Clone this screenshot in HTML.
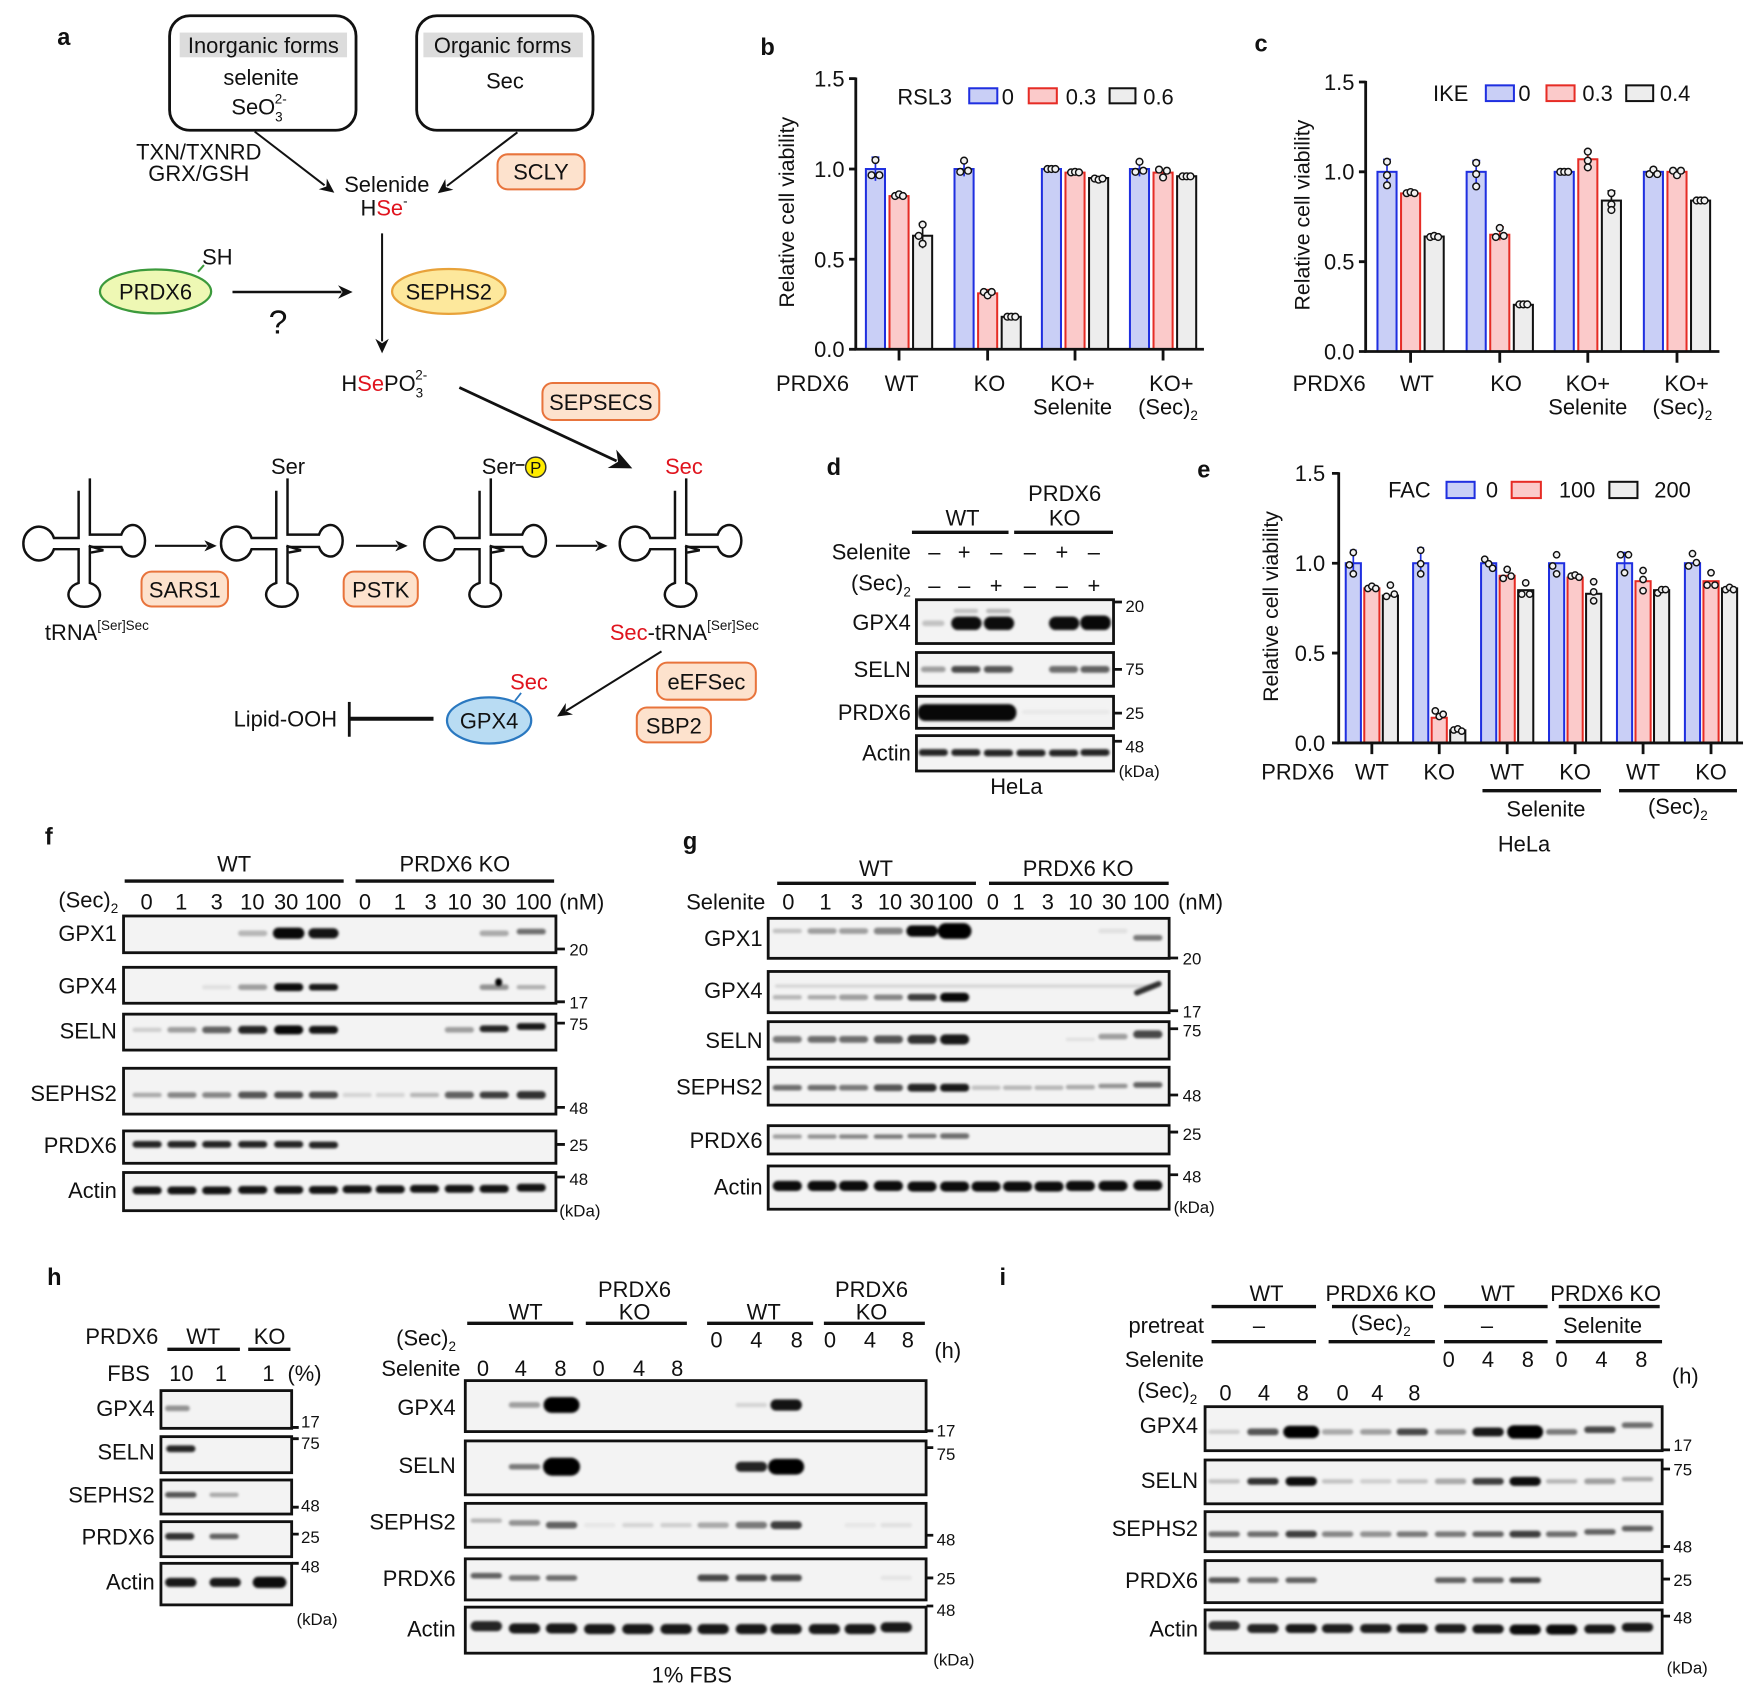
<!DOCTYPE html>
<html><head><meta charset="utf-8"><style>
html,body{margin:0;padding:0;background:#fff;overflow:hidden}
svg{display:block}
text{font-family:"Liberation Sans",Arial,Helvetica,sans-serif;font-size:19.5px;fill:#111}
.L{font-weight:bold;font-size:21px}
.m{font-size:15px}
.sm{font-size:12px}
.ax{stroke:#111;stroke-width:2.5;fill:none}
.bb{fill:#c9cff6;stroke:#1f2fe0;stroke-width:1.8}
.br{fill:#fbcaca;stroke:#e62c25;stroke-width:1.8}
.bg{fill:#ededed;stroke:#111;stroke-width:1.8}
.dt circle{fill:#f2f2f2;stroke:#111;stroke-width:1.3}
.box{fill:#f3f3f3;stroke:#111;stroke-width:2.5}
.hl{stroke:#111;stroke-width:3}
.bd rect{fill:#000}
.ob{fill:#fde2cd;stroke:#e8743c;stroke-width:1.8}
.tr{fill:none;stroke:#111;stroke-width:2.2}
.r{fill:#e0141e}
</style></head><body>
<svg width="1761" height="1699" viewBox="0 0 1568 1512.8" xmlns="http://www.w3.org/2000/svg">
<defs>
<filter id="bl" x="-20%" y="-50%" width="140%" height="200%"><feGaussianBlur stdDeviation="1.3"/></filter>
<g id="trna">
<path class="tr" d="M -5 -47 L -5 -5 L -27 -5 A 14 15 0 1 0 -27 5 L -5 5 L -5 35 A 14 11 0 1 0 5 35 L 5 3 L 33 3 A 11 14 0 1 0 33 -8 L 5 -8 L 5 -58"/>
<path class="tr" d="M 4 2 L 17 6 L 6 8" stroke-width="1.6"/>
</g>
</defs>

<!-- ================= PANEL A ================= -->
<text class="L" x="51" y="40">a</text>
<rect x="151" y="14" width="166" height="102" rx="18" fill="#fff" stroke="#111" stroke-width="2.5"/>
<rect x="160" y="29" width="149" height="22" fill="#dcdcdc"/>
<text x="234.5" y="47" text-anchor="middle">Inorganic forms</text>
<text x="232.5" y="75.5" text-anchor="middle">selenite</text>
<text x="206" y="102">SeO<tspan class="sm" dy="6">3</tspan><tspan class="sm" dx="-7" dy="-16">2-</tspan></text>
<rect x="371" y="14" width="157" height="102" rx="18" fill="#fff" stroke="#111" stroke-width="2.5"/>
<rect x="377" y="29" width="142" height="22" fill="#dcdcdc"/>
<text x="447.5" y="47" text-anchor="middle">Organic forms</text>
<text x="449.6" y="79" text-anchor="middle">Sec</text>

<text x="177" y="142" text-anchor="middle">TXN/TXNRD</text>
<text x="177" y="161" text-anchor="middle">GRX/GSH</text>
<line x1="226.8" y1="117.2" x2="289" y2="165" stroke="#111" stroke-width="1.8"/>
<polygon points="297.7,171.6 283.8,168.5 290.6,166.1 291,158.9" fill="#111"/>
<line x1="460.7" y1="117.8" x2="398" y2="165.5" stroke="#111" stroke-width="1.8"/>
<polygon points="389.8,172.1 396.5,159.4 397,166.6 403.7,169" fill="#111"/>
<rect class="ob" x="443" y="137.4" width="77.5" height="31.2" rx="9"/>
<text x="481.7" y="160" text-anchor="middle">SCLY</text>
<text x="344.4" y="171" text-anchor="middle">Selenide</text>
<text x="321" y="192">H<tspan class="r">Se</tspan><tspan class="sm" dy="-9">-</tspan></text>
<line x1="340.2" y1="207.8" x2="340.2" y2="304" stroke="#111" stroke-width="1.8"/>
<polygon points="340.2,314.6 334.2,301.6 340.2,305.6 346.2,301.6" fill="#111"/>

<ellipse cx="138.5" cy="259.5" rx="49.5" ry="19.5" fill="#eef8b4" stroke="#3c9a3c" stroke-width="2"/>
<text x="138.5" y="266.5" text-anchor="middle">PRDX6</text>
<line x1="176.3" y1="242" x2="181.6" y2="236" stroke="#3c9a3c" stroke-width="1.8"/>
<text x="180" y="235.5">SH</text>
<line x1="207" y1="260" x2="304" y2="260" stroke="#111" stroke-width="2.2"/>
<polygon points="314,260 301,254 305,260 301,266" fill="#111"/>
<text x="247.5" y="297" text-anchor="middle" style="font-size:30px">?</text>
<ellipse cx="399.6" cy="259.5" rx="50.5" ry="20" fill="#fde89c" stroke="#e8a23a" stroke-width="2"/>
<text x="399.6" y="266.5" text-anchor="middle">SEPHS2</text>

<text x="304" y="348">H<tspan class="r">Se</tspan>PO<tspan class="sm" dy="6">3</tspan><tspan class="sm" dx="-7" dy="-16">2-</tspan></text>
<line x1="409" y1="345" x2="549" y2="410.5" stroke="#111" stroke-width="2.5"/>
<polygon points="563,417 541.1,416.7 550.3,411.1 548.7,400.3" fill="#111"/>
<rect class="ob" x="483" y="341" width="104" height="33" rx="9"/>
<text x="535" y="365" text-anchor="middle">SEPSECS</text>

<!-- tRNAs -->
<use href="#trna" transform="translate(75,484)"/>
<use href="#trna" transform="translate(251,484)"/>
<use href="#trna" transform="translate(432,484)"/>
<use href="#trna" transform="translate(606,484)"/>
<line x1="138" y1="486" x2="184" y2="486" stroke="#111" stroke-width="1.8"/>
<polygon points="193,486 182,481 185,486 182,491" fill="#111"/>
<line x1="317" y1="486" x2="354" y2="486" stroke="#111" stroke-width="1.8"/>
<polygon points="363,486 352,481 355,486 352,491" fill="#111"/>
<line x1="495" y1="486" x2="532" y2="486" stroke="#111" stroke-width="1.8"/>
<polygon points="541,486 530,481 533,486 530,491" fill="#111"/>
<text x="256.5" y="422" text-anchor="middle">Ser</text>
<text x="429" y="422">Ser</text>
<line x1="459" y1="414" x2="467" y2="414" stroke="#111" stroke-width="1.5"/>
<circle cx="477" cy="416" r="9" fill="#ffec00" stroke="#333" stroke-width="1.3"/>
<text x="477" y="421.5" text-anchor="middle" style="font-size:15px">P</text>
<text x="609" y="422" text-anchor="middle" class="r">Sec</text>
<rect class="ob" x="126" y="509" width="77" height="31" rx="9"/>
<text x="164.5" y="532" text-anchor="middle">SARS1</text>
<rect class="ob" x="306" y="509" width="66" height="31" rx="9"/>
<text x="339" y="532" text-anchor="middle">PSTK</text>
<text x="40" y="570">tRNA<tspan class="sm" dy="-9">[Ser]Sec</tspan></text>
<text x="543" y="570"><tspan class="r">Sec</tspan>-tRNA<tspan class="sm" dy="-9">[Ser]Sec</tspan></text>
<line x1="589" y1="580" x2="504" y2="633" stroke="#111" stroke-width="1.8"/>
<polygon points="496,638 503.8,626 503.6,633.2 510.2,636.2" fill="#111"/>
<rect class="ob" x="585" y="590" width="88" height="33" rx="9"/>
<text x="629" y="614" text-anchor="middle">eEFSec</text>
<rect class="ob" x="567" y="630" width="66" height="31" rx="9"/>
<text x="600" y="653" text-anchor="middle">SBP2</text>
<ellipse cx="435.5" cy="641.5" rx="37.5" ry="20.5" fill="#b9dcf3" stroke="#2a78c0" stroke-width="2"/>
<text x="435.5" y="648.5" text-anchor="middle">GPX4</text>
<line x1="458.5" y1="624" x2="464" y2="617" stroke="#2a78c0" stroke-width="1.6"/>
<text x="471" y="614" text-anchor="middle" class="r">Sec</text>
<text x="208" y="647">Lipid-OOH</text>
<line x1="311" y1="640" x2="386" y2="640" stroke="#111" stroke-width="3.5"/>
<line x1="311" y1="625" x2="311" y2="656" stroke="#111" stroke-width="2.5"/>

<!-- ================= PANEL B ================= -->
<text class="L" x="677" y="49">b</text>
<text transform="translate(707,189) rotate(-90)" text-anchor="middle" style="font-size:19px">Relative cell viability</text>
<line class="ax" x1="762" y1="69" x2="762" y2="312"/>
<line class="ax" x1="756" y1="70" x2="762" y2="70"/><line class="ax" x1="756" y1="150.5" x2="762" y2="150.5"/><line class="ax" x1="756" y1="230.8" x2="762" y2="230.8"/><line class="ax" x1="756" y1="311" x2="762" y2="311"/>
<text x="752" y="77" text-anchor="end">1.5</text><text x="752" y="157.5" text-anchor="end">1.0</text><text x="752" y="238" text-anchor="end">0.5</text><text x="752" y="318" text-anchor="end">0.0</text>
<rect class="bb" x="771" y="150.5" width="17" height="160.5"/><rect class="br" x="792" y="174.6" width="17" height="136.4"/><rect class="bg" x="813" y="209.9" width="17" height="101.1"/>
<rect class="bb" x="849.9" y="150.5" width="17" height="160.5"/><rect class="br" x="870.9" y="261.2" width="17" height="49.8"/><rect class="bg" x="891.9" y="282.1" width="17" height="28.9"/>
<rect class="bb" x="927.7" y="150.5" width="17" height="160.5"/><rect class="br" x="948.7" y="153.7" width="17" height="157.3"/><rect class="bg" x="969.7" y="158.5" width="17" height="152.5"/>
<rect class="bb" x="1006.1" y="150.5" width="17" height="160.5"/><rect class="br" x="1027.1" y="153.7" width="17" height="157.3"/><rect class="bg" x="1048.1" y="156.9" width="17" height="154.1"/>
<g stroke-width="1.5" fill="none">
<path stroke="#1f2fe0" d="M779.5 140V161M776 140H783M858.4 144V157M855 144H862M1014.6 144V157M1011 144H1018"/>
<path stroke="#111" d="M821.5 199V221M818 199H825"/>
<path stroke="#e62c25" d="M879.4 258V264M876 258H883"/>
</g>
<g class="dt">
<circle cx="779.5" cy="142.5" r="3"/><circle cx="776" cy="156" r="3"/><circle cx="783" cy="156" r="3"/>
<circle cx="797" cy="174.5" r="3"/><circle cx="800.5" cy="173" r="3"/><circle cx="804" cy="174.5" r="3"/>
<circle cx="821.5" cy="200" r="3"/><circle cx="818" cy="210" r="3"/><circle cx="821.5" cy="217" r="3"/>
<circle cx="858.4" cy="143" r="3"/><circle cx="855" cy="153" r="3"/><circle cx="862" cy="152" r="3"/>
<circle cx="876" cy="260" r="3"/><circle cx="879.4" cy="263" r="3"/><circle cx="883" cy="260" r="3"/>
<circle cx="897" cy="282" r="3"/><circle cx="900.4" cy="282" r="3"/><circle cx="904" cy="282" r="3"/>
<circle cx="932.7" cy="150.5" r="3"/><circle cx="936.2" cy="150.5" r="3"/><circle cx="939.7" cy="150.5" r="3"/>
<circle cx="953.7" cy="153.5" r="3"/><circle cx="957.2" cy="153" r="3"/><circle cx="960.7" cy="153.5" r="3"/>
<circle cx="974.7" cy="159" r="3"/><circle cx="978.2" cy="160" r="3"/><circle cx="981.7" cy="159" r="3"/>
<circle cx="1014.6" cy="144" r="3"/><circle cx="1011" cy="153" r="3"/><circle cx="1018" cy="152" r="3"/>
<circle cx="1032" cy="151" r="3"/><circle cx="1035.6" cy="158" r="3"/><circle cx="1039" cy="152" r="3"/>
<circle cx="1053" cy="157" r="3"/><circle cx="1056.6" cy="157" r="3"/><circle cx="1060" cy="157" r="3"/>
</g>
<line class="ax" x1="760.8" y1="311" x2="1072" y2="311"/>
<path class="ax" d="M800.5 311V321M879.4 311V321M957.2 311V321M1035.6 311V321"/>
<text x="799" y="93">RSL3</text>
<rect class="bb" x="863" y="78.6" width="25" height="13.4" stroke-width="2.5"/><text x="892" y="93">0</text>
<rect class="br" x="916" y="78.6" width="25" height="13.4" stroke-width="2.5"/><text x="949" y="93">0.3</text>
<rect class="bg" x="988" y="78.6" width="23" height="13.4" stroke-width="2.5"/><text x="1018" y="93">0.6</text>
<text x="691" y="348">PRDX6</text>
<text x="802.8" y="348" text-anchor="middle">WT</text>
<text x="881" y="348" text-anchor="middle">KO</text>
<text x="955" y="348" text-anchor="middle">KO+</text>
<text x="955" y="369" text-anchor="middle">Selenite</text>
<text x="1043" y="348" text-anchor="middle">KO+</text>
<text x="1040" y="369" text-anchor="middle">(Sec)<tspan class="sm" dy="5">2</tspan></text>

<!-- ================= PANEL C ================= -->
<text class="L" x="1117" y="46">c</text>
<text transform="translate(1166,191.5) rotate(-90)" text-anchor="middle" style="font-size:19px">Relative cell viability</text>
<line class="ax" x1="1216" y1="72" x2="1216" y2="314"/>
<path class="ax" d="M1210 73H1216M1210 153H1216M1210 233H1216M1210 313H1216"/>
<text x="1206" y="80" text-anchor="end">1.5</text><text x="1206" y="160" text-anchor="end">1.0</text><text x="1206" y="240" text-anchor="end">0.5</text><text x="1206" y="320" text-anchor="end">0.0</text>
<rect class="bb" x="1226.5" y="153" width="17" height="160"/><rect class="br" x="1247.5" y="172.2" width="17" height="140.8"/><rect class="bg" x="1268.5" y="210.6" width="17" height="102.4"/>
<rect class="bb" x="1305.9" y="153" width="17" height="160"/><rect class="br" x="1326.9" y="209" width="17" height="104"/><rect class="bg" x="1347.9" y="271.4" width="17" height="41.6"/>
<rect class="bb" x="1384.3" y="153" width="17" height="160"/><rect class="br" x="1405.3" y="141.8" width="17" height="171.2"/><rect class="bg" x="1426.3" y="178.6" width="17" height="134.4"/>
<rect class="bb" x="1463.7" y="153" width="17" height="160"/><rect class="br" x="1484.7" y="153" width="17" height="160"/><rect class="bg" x="1505.7" y="178.6" width="17" height="134.4"/>
<g stroke-width="1.5" fill="none">
<path stroke="#1f2fe0" d="M1235 142V166M1231.5 142H1238.5M1314.4 143V167M1311 143H1318"/>
<path stroke="#e62c25" d="M1335.4 202V214M1332 202H1339M1413.8 134V150M1410.3 134H1417.3"/>
<path stroke="#111" d="M1434.8 170V188M1431.3 170H1438.3"/>
</g>
<g class="dt">
<circle cx="1235" cy="144" r="3"/><circle cx="1235" cy="156" r="3"/><circle cx="1235" cy="165" r="3"/>
<circle cx="1252.5" cy="172" r="3"/><circle cx="1256" cy="171" r="3"/><circle cx="1259.5" cy="172" r="3"/>
<circle cx="1273.5" cy="211" r="3"/><circle cx="1277" cy="210" r="3"/><circle cx="1280.5" cy="211" r="3"/>
<circle cx="1314.4" cy="145" r="3"/><circle cx="1314.4" cy="155" r="3"/><circle cx="1314.4" cy="166" r="3"/>
<circle cx="1335.4" cy="203" r="3"/><circle cx="1331.9" cy="211" r="3"/><circle cx="1338.9" cy="210" r="3"/>
<circle cx="1352.9" cy="271" r="3"/><circle cx="1356.4" cy="271" r="3"/><circle cx="1359.9" cy="271" r="3"/>
<circle cx="1389.3" cy="153" r="3"/><circle cx="1392.8" cy="153" r="3"/><circle cx="1396.3" cy="153" r="3"/>
<circle cx="1413.8" cy="135" r="3"/><circle cx="1413.8" cy="143" r="3"/><circle cx="1413.8" cy="149" r="3"/>
<circle cx="1434.8" cy="172" r="3"/><circle cx="1434.8" cy="182" r="3"/><circle cx="1434.8" cy="187" r="3"/>
<circle cx="1468.7" cy="155" r="3"/><circle cx="1472.2" cy="151" r="3"/><circle cx="1475.7" cy="155" r="3"/>
<circle cx="1489.7" cy="152" r="3"/><circle cx="1493.2" cy="156" r="3"/><circle cx="1496.7" cy="152" r="3"/>
<circle cx="1510.7" cy="178.5" r="3"/><circle cx="1514.2" cy="178.5" r="3"/><circle cx="1517.7" cy="178.5" r="3"/>
</g>
<line class="ax" x1="1214.8" y1="313" x2="1531" y2="313"/>
<path class="ax" d="M1256 313V323M1335.4 313V323M1413.8 313V323M1493.2 313V323"/>
<text x="1276" y="90">IKE</text>
<rect class="bb" x="1323" y="76" width="25" height="14" stroke-width="2.5"/><text x="1352" y="90">0</text>
<rect class="br" x="1377" y="76" width="25" height="14" stroke-width="2.5"/><text x="1409" y="90">0.3</text>
<rect class="bg" x="1448" y="76" width="24" height="14" stroke-width="2.5"/><text x="1478" y="90">0.4</text>
<text x="1151" y="348">PRDX6</text>
<text x="1261.6" y="348" text-anchor="middle">WT</text>
<text x="1341" y="348" text-anchor="middle">KO</text>
<text x="1413.8" y="348" text-anchor="middle">KO+</text>
<text x="1413.8" y="369" text-anchor="middle">Selenite</text>
<text x="1501.8" y="348" text-anchor="middle">KO+</text>
<text x="1498" y="369" text-anchor="middle">(Sec)<tspan class="sm" dy="5">2</tspan></text>

<!-- ================= PANEL D ================= -->
<text class="L" x="736" y="423">d</text>
<text x="857" y="468" text-anchor="middle">WT</text>
<text x="948" y="446" text-anchor="middle">PRDX6</text>
<text x="948" y="468" text-anchor="middle">KO</text>
<line class="hl" x1="812" y1="474" x2="898" y2="474"/><line class="hl" x1="903" y1="474" x2="991" y2="474"/>
<text x="811" y="498" text-anchor="end">Selenite</text>
<g text-anchor="middle">
<text x="832" y="498">–</text><text x="858.5" y="498">+</text><text x="887" y="498">–</text><text x="917" y="498">–</text><text x="945.5" y="498">+</text><text x="974" y="498">–</text>
<text x="832" y="528">–</text><text x="858.5" y="528">–</text><text x="887" y="528">+</text><text x="917" y="528">–</text><text x="945.5" y="528">–</text><text x="974" y="528">+</text>
</g>
<text x="811" y="526" text-anchor="end">(Sec)<tspan class="sm" dy="5">2</tspan></text>
<rect class="box" x="816" y="534" width="175.5" height="39"/>
<rect class="box" x="816" y="581" width="175.5" height="30"/>
<rect class="box" x="816" y="620" width="175.5" height="28.5"/>
<rect class="box" x="816" y="655" width="175.5" height="31.5"/>
<g class="bd" filter="url(#bl)">
<rect x="821" y="552.5" width="20" height="5" rx="2.5" opacity=".2"/>
<rect x="847" y="549" width="27" height="12" rx="6" opacity=".95"/>
<rect x="876" y="549" width="27" height="12" rx="6" opacity=".95"/>
<rect x="934" y="549" width="27" height="12" rx="6" opacity=".95"/>
<rect x="962" y="548" width="27" height="13" rx="6" opacity=".97"/>
<rect x="849" y="542" width="22" height="4" rx="2" opacity=".2"/>
<rect x="878" y="542" width="22" height="4" rx="2" opacity=".25"/>
<rect x="820" y="593.5" width="22" height="5" rx="2.5" opacity=".35"/>
<rect x="847" y="593" width="26" height="6" rx="3" opacity=".7"/>
<rect x="876" y="593" width="26" height="6" rx="3" opacity=".65"/>
<rect x="934" y="593" width="26" height="6" rx="3" opacity=".55"/>
<rect x="962" y="593" width="26" height="6" rx="3" opacity=".6"/>
<rect x="817" y="627" width="88" height="15" rx="7" opacity=".97"/>
<rect x="910" y="632" width="78" height="4" rx="2" opacity=".04"/>
<rect x="818" y="667" width="26" height="6" rx="3" opacity=".85"/>
<rect x="847" y="667" width="26" height="6" rx="3" opacity=".85"/>
<rect x="876" y="667.5" width="26" height="6" rx="3" opacity=".85"/>
<rect x="905" y="667.5" width="26" height="6" rx="3" opacity=".85"/>
<rect x="934" y="667.5" width="26" height="6" rx="3" opacity=".85"/>
<rect x="962" y="667" width="26" height="6" rx="3" opacity=".85"/>
</g>
<g class="m">
<text x="811" y="561" text-anchor="end" style="font-size:19.5px">GPX4</text>
<text x="811" y="603" text-anchor="end" style="font-size:19.5px">SELN</text>
<text x="811" y="641" text-anchor="end" style="font-size:19.5px">PRDX6</text>
<text x="811" y="677" text-anchor="end" style="font-size:19.5px">Actin</text>
</g>
<path class="ax" d="M992 536H999M992 596H999M992 635H999M992 660H999"/>
<text class="m" x="1002" y="545">20</text>
<text class="m" x="1002" y="601">75</text>
<text class="m" x="1002" y="640">25</text>
<text class="m" x="1002" y="670">48</text>
<text class="m" x="996" y="692">(kDa)</text>
<text x="905" y="707" text-anchor="middle">HeLa</text>

<!-- ================= PANEL E ================= -->
<text class="L" x="1066" y="425">e</text>
<text transform="translate(1138,540) rotate(-90)" text-anchor="middle" style="font-size:19px">Relative cell viability</text>
<line class="ax" x1="1192" y1="420.5" x2="1192" y2="662.5"/>
<path class="ax" d="M1186 421.5H1192M1186 501.5H1192M1186 581.5H1192M1186 661.5H1192"/>
<text x="1180" y="428.5" text-anchor="end">1.5</text><text x="1180" y="508.5" text-anchor="end">1.0</text><text x="1180" y="588.5" text-anchor="end">0.5</text><text x="1180" y="668.5" text-anchor="end">0.0</text>
<rect class="bb" x="1198.25" y="501.5" width="13.5" height="160"/><rect class="br" x="1214.75" y="523.9" width="13.5" height="137.6"/><rect class="bg" x="1231.25" y="530.3" width="13.5" height="131.2"/>
<rect class="bb" x="1258.25" y="501.5" width="13.5" height="160"/><rect class="br" x="1274.75" y="639.1" width="13.5" height="22.4"/><rect class="bg" x="1291.25" y="650.3" width="13.5" height="11.2"/>
<rect class="bb" x="1318.75" y="501.5" width="13.5" height="160"/><rect class="br" x="1335.25" y="512.7" width="13.5" height="148.8"/><rect class="bg" x="1351.75" y="525.5" width="13.5" height="136"/>
<rect class="bb" x="1379.25" y="501.5" width="13.5" height="160"/><rect class="br" x="1395.75" y="514.3" width="13.5" height="147.2"/><rect class="bg" x="1412.25" y="528.7" width="13.5" height="132.8"/>
<rect class="bb" x="1439.75" y="501.5" width="13.5" height="160"/><rect class="br" x="1456.25" y="517.5" width="13.5" height="144"/><rect class="bg" x="1472.75" y="525.5" width="13.5" height="136"/>
<rect class="bb" x="1500.25" y="501.5" width="13.5" height="160"/><rect class="br" x="1516.75" y="517.5" width="13.5" height="144"/><rect class="bg" x="1533.25" y="523.9" width="13.5" height="137.6"/>
<g stroke-width="1.5" fill="none">
<path stroke="#1f2fe0" d="M1205 490V512M1202 490H1208M1265 488V514M1262 488H1268M1446.5 492V511M1443.5 492H1449.5"/>
</g>
<g class="dt">
<circle cx="1205" cy="492" r="2.8"/><circle cx="1201.5" cy="503" r="2.8"/><circle cx="1205" cy="511" r="2.8"/>
<circle cx="1218" cy="524" r="2.8"/><circle cx="1221.5" cy="522" r="2.8"/><circle cx="1225" cy="524" r="2.8"/>
<circle cx="1238" cy="521" r="2.8"/><circle cx="1234.5" cy="531" r="2.8"/><circle cx="1241.5" cy="529" r="2.8"/>
<circle cx="1265" cy="490" r="2.8"/><circle cx="1265" cy="502" r="2.8"/><circle cx="1265" cy="511" r="2.8"/>
<circle cx="1278" cy="633" r="2.8"/><circle cx="1281.5" cy="638" r="2.8"/><circle cx="1285" cy="636" r="2.8"/>
<circle cx="1294.5" cy="650" r="2.8"/><circle cx="1298" cy="649" r="2.8"/><circle cx="1301.5" cy="651" r="2.8"/>
<circle cx="1322" cy="498" r="2.8"/><circle cx="1325.5" cy="502" r="2.8"/><circle cx="1329" cy="506" r="2.8"/>
<circle cx="1342" cy="507" r="2.8"/><circle cx="1338.5" cy="515" r="2.8"/><circle cx="1345.5" cy="513" r="2.8"/>
<circle cx="1358.5" cy="519" r="2.8"/><circle cx="1355" cy="529" r="2.8"/><circle cx="1362" cy="529" r="2.8"/>
<circle cx="1386" cy="494" r="2.8"/><circle cx="1382.5" cy="504" r="2.8"/><circle cx="1386" cy="511" r="2.8"/>
<circle cx="1399" cy="513" r="2.8"/><circle cx="1402.5" cy="512" r="2.8"/><circle cx="1406" cy="514" r="2.8"/>
<circle cx="1419" cy="518" r="2.8"/><circle cx="1419" cy="527" r="2.8"/><circle cx="1419" cy="535" r="2.8"/>
<circle cx="1443" cy="494" r="2.8"/><circle cx="1450" cy="494" r="2.8"/><circle cx="1446.5" cy="510" r="2.8"/>
<circle cx="1463" cy="508" r="2.8"/><circle cx="1463" cy="516" r="2.8"/><circle cx="1463" cy="526" r="2.8"/>
<circle cx="1476" cy="528" r="2.8"/><circle cx="1479.5" cy="525" r="2.8"/><circle cx="1483" cy="525" r="2.8"/>
<circle cx="1507" cy="493" r="2.8"/><circle cx="1503.5" cy="504" r="2.8"/><circle cx="1510.5" cy="501" r="2.8"/>
<circle cx="1523.5" cy="510" r="2.8"/><circle cx="1520" cy="521" r="2.8"/><circle cx="1527" cy="521" r="2.8"/>
<circle cx="1536.5" cy="525" r="2.8"/><circle cx="1540" cy="523" r="2.8"/><circle cx="1543.5" cy="525" r="2.8"/>
</g>
<line class="ax" x1="1190.8" y1="661.5" x2="1552" y2="661.5"/>
<path class="ax" d="M1221.5 661.5V671.5M1281.5 661.5V671.5M1342 661.5V671.5M1402.5 661.5V671.5M1463 661.5V671.5M1523.5 661.5V671.5"/>
<text x="1236" y="443">FAC</text>
<rect class="bb" x="1288" y="429" width="25" height="14.5" stroke-width="2.5"/><text x="1323" y="443">0</text>
<rect class="br" x="1346" y="429" width="26" height="14.5" stroke-width="2.5"/><text x="1388" y="443">100</text>
<rect class="bg" x="1433" y="429" width="25" height="14.5" stroke-width="2.5"/><text x="1473" y="443">200</text>
<text x="1188" y="694" text-anchor="end">PRDX6</text>
<g text-anchor="middle">
<text x="1221.5" y="694">WT</text><text x="1281.5" y="694">KO</text><text x="1342" y="694">WT</text><text x="1402.5" y="694">KO</text><text x="1463" y="694">WT</text><text x="1523.5" y="694">KO</text>
</g>
<line class="hl" x1="1320" y1="704" x2="1425.5" y2="704"/><line class="hl" x1="1441.6" y1="704" x2="1546.6" y2="704"/>
<text x="1376.5" y="727" text-anchor="middle">Selenite</text>
<text x="1494" y="725" text-anchor="middle">(Sec)<tspan class="sm" dy="5">2</tspan></text>
<text x="1357" y="758" text-anchor="middle">HeLa</text>

<!-- ================= PANEL F ================= -->
<text class="L" x="40" y="752">f</text>
<text x="208.5" y="776" text-anchor="middle">WT</text>
<text x="405" y="776" text-anchor="middle">PRDX6 KO</text>
<line class="hl" x1="111" y1="784.5" x2="306" y2="784.5" stroke-width="3.5"/><line class="hl" x1="316.6" y1="784.5" x2="493.4" y2="784.5" stroke-width="3.5"/>
<text x="52" y="808">(Sec)<tspan class="sm" dy="5">2</tspan></text>
<g text-anchor="middle">
<text x="130.5" y="810">0</text><text x="161.4" y="810">1</text><text x="193" y="810">3</text><text x="224.7" y="810">10</text><text x="254.8" y="810">30</text><text x="287.6" y="810">100</text>
<text x="325" y="810">0</text><text x="356" y="810">1</text><text x="383.4" y="810">3</text><text x="409.3" y="810">10</text><text x="440" y="810">30</text><text x="475" y="810">100</text>
</g>
<text x="498" y="810">(nM)</text>
<rect class="box" x="110" y="815.6" width="385" height="32.7" fill="#f7f7f7"/>
<rect class="box" x="110" y="861.3" width="385" height="32"/>
<rect class="box" x="110" y="903" width="385" height="32" fill="#eeeeee"/>
<rect class="box" x="110" y="951.2" width="385" height="40.8"/>
<rect class="box" x="110" y="1007" width="385" height="28.8" fill="#f6f6f6"/>
<rect class="box" x="110" y="1044" width="385" height="34" fill="#e9e9e9"/>
<g class="bd" filter="url(#bl)">
<rect x="212" y="828.5" width="26" height="5" rx="2.5" opacity=".25"/>
<rect x="243" y="826" width="28" height="10" rx="5" opacity=".97"/>
<rect x="274.5" y="826.5" width="27" height="9" rx="4.5" opacity=".92"/>
<rect x="427" y="828.5" width="26" height="5" rx="2.5" opacity=".3"/>
<rect x="460" y="827" width="26" height="5" rx="2.5" opacity=".55"/>
<rect x="180" y="877" width="26" height="4" rx="2" opacity=".08"/>
<rect x="212" y="876.5" width="26" height="5" rx="2.5" opacity=".35"/>
<rect x="244" y="875.5" width="26" height="7" rx="3.5" opacity=".95"/>
<rect x="275" y="876" width="26" height="6" rx="3" opacity=".9"/>
<rect x="427" y="876.5" width="26" height="5" rx="2.5" opacity=".4"/>
<rect x="441" y="871" width="6" height="7" rx="3" opacity="1"/>
<rect x="460" y="877" width="26" height="4" rx="2" opacity=".28"/>
<rect x="118" y="915" width="26" height="4" rx="2" opacity=".15"/>
<rect x="149" y="914.5" width="26" height="5" rx="2.5" opacity=".35"/>
<rect x="180" y="914" width="26" height="6" rx="3" opacity=".6"/>
<rect x="212" y="913.5" width="26" height="7" rx="3.5" opacity=".85"/>
<rect x="244" y="913" width="26" height="8" rx="4" opacity=".97"/>
<rect x="275" y="913.5" width="26" height="7" rx="3.5" opacity=".92"/>
<rect x="396" y="914.5" width="26" height="5" rx="2.5" opacity=".35"/>
<rect x="427" y="913" width="26" height="6" rx="3" opacity=".85"/>
<rect x="460" y="911" width="26" height="6" rx="3" opacity=".9"/>
<rect x="118" y="973" width="26" height="4" rx="2" opacity=".3"/>
<rect x="149" y="972.5" width="26" height="5" rx="2.5" opacity=".45"/>
<rect x="180" y="972.5" width="26" height="5" rx="2.5" opacity=".45"/>
<rect x="212" y="972" width="26" height="6" rx="3" opacity=".65"/>
<rect x="244" y="972" width="26" height="6" rx="3" opacity=".7"/>
<rect x="275" y="972" width="26" height="6" rx="3" opacity=".7"/>
<rect x="305" y="973" width="26" height="4" rx="2" opacity=".12"/>
<rect x="334.5" y="973" width="26" height="4" rx="2" opacity=".12"/>
<rect x="365" y="973" width="26" height="4" rx="2" opacity=".25"/>
<rect x="396" y="972" width="26" height="6" rx="3" opacity=".6"/>
<rect x="427" y="972" width="26" height="6" rx="3" opacity=".75"/>
<rect x="460" y="971.5" width="26" height="7" rx="3.5" opacity=".8"/>
<rect x="118" y="1016" width="26" height="6" rx="3" opacity=".85"/>
<rect x="149" y="1016" width="26" height="6" rx="3" opacity=".85"/>
<rect x="180" y="1016" width="26" height="6" rx="3" opacity=".85"/>
<rect x="212" y="1016" width="26" height="6" rx="3" opacity=".85"/>
<rect x="244" y="1016" width="26" height="6" rx="3" opacity=".85"/>
<rect x="275" y="1016.5" width="26" height="6" rx="3" opacity=".85"/>
<rect x="118" y="1056.5" width="26" height="7" rx="3.5" opacity=".92"/>
<rect x="149" y="1056.5" width="26" height="7" rx="3.5" opacity=".92"/>
<rect x="180" y="1056.5" width="26" height="7" rx="3.5" opacity=".92"/>
<rect x="212" y="1056" width="26" height="7" rx="3.5" opacity=".92"/>
<rect x="244" y="1056" width="26" height="7" rx="3.5" opacity=".92"/>
<rect x="275" y="1056" width="26" height="7" rx="3.5" opacity=".92"/>
<rect x="305" y="1055.5" width="26" height="7" rx="3.5" opacity=".92"/>
<rect x="334.5" y="1055.5" width="26" height="7" rx="3.5" opacity=".92"/>
<rect x="365" y="1055" width="26" height="7" rx="3.5" opacity=".92"/>
<rect x="396" y="1055" width="26" height="7" rx="3.5" opacity=".92"/>
<rect x="427" y="1055" width="26" height="7" rx="3.5" opacity=".92"/>
<rect x="460" y="1054" width="26" height="7" rx="3.5" opacity=".92"/>
</g>
<g text-anchor="end">
<text x="104" y="838">GPX1</text><text x="104" y="884.5">GPX4</text><text x="104" y="924.5">SELN</text><text x="104" y="980.5">SEPHS2</text><text x="104" y="1026.5">PRDX6</text><text x="104" y="1066.6">Actin</text>
</g>
<path class="ax" d="M496 845H503M496 892H503M496 911H503M496 986H503M496 1019H503M496 1048H503"/>
<text class="m" x="507" y="851">20</text><text class="m" x="507" y="898">17</text><text class="m" x="507" y="917">75</text><text class="m" x="507" y="992">48</text><text class="m" x="507" y="1025">25</text><text class="m" x="507" y="1055">48</text>
<text class="m" x="498" y="1083">(kDa)</text>

<!-- ================= PANEL G ================= -->
<text class="L" x="608" y="756">g</text>
<text x="780" y="780" text-anchor="middle">WT</text>
<text x="960" y="780" text-anchor="middle">PRDX6 KO</text>
<line class="hl" x1="692" y1="786.5" x2="869" y2="786.5"/><line class="hl" x1="880.6" y1="786.5" x2="1040.6" y2="786.5"/>
<text x="611" y="810">Selenite</text>
<g text-anchor="middle">
<text x="702" y="810">0</text><text x="735" y="810">1</text><text x="763" y="810">3</text><text x="792.5" y="810">10</text><text x="820.6" y="810">30</text><text x="850.2" y="810">100</text>
<text x="884" y="810">0</text><text x="907" y="810">1</text><text x="933" y="810">3</text><text x="962" y="810">10</text><text x="992" y="810">30</text><text x="1025" y="810">100</text>
</g>
<text x="1049" y="810">(nM)</text>
<rect class="box" x="684" y="817.7" width="357" height="35.6" fill="#eeeeee"/>
<rect class="box" x="684" y="865" width="357" height="36.7" fill="#f1f1f1"/>
<rect class="box" x="684" y="909.7" width="357" height="33.3" fill="#eeeeee"/>
<rect class="box" x="684" y="950.3" width="357" height="33.7" fill="#ebebeb"/>
<rect class="box" x="684" y="1002.3" width="357" height="25.2" fill="#f6f6f6"/>
<rect class="box" x="684" y="1038.2" width="357" height="38.5" fill="#cfcfcf"/>
<g class="bd" filter="url(#bl)">
<rect x="688" y="827" width="26" height="4" rx="2" opacity=".2"/>
<rect x="719" y="826.5" width="26" height="5" rx="2.5" opacity=".35"/>
<rect x="747" y="826.5" width="26" height="5" rx="2.5" opacity=".35"/>
<rect x="778" y="826" width="26" height="6" rx="3" opacity=".45"/>
<rect x="807" y="824" width="28" height="10" rx="5" opacity=".97"/>
<rect x="835" y="822" width="30" height="14" rx="7" opacity="1"/>
<rect x="978" y="827" width="26" height="4" rx="2" opacity=".08"/>
<rect x="1009" y="832.5" width="26" height="5" rx="2.5" opacity=".5"/>
<rect x="690" y="876.5" width="340" height="3" rx="1.5" opacity=".12"/>
<rect x="688" y="886" width="26" height="4" rx="2" opacity=".25"/>
<rect x="719" y="886" width="26" height="4" rx="2" opacity=".3"/>
<rect x="747" y="885.5" width="26" height="5" rx="2.5" opacity=".35"/>
<rect x="778" y="885.5" width="26" height="5" rx="2.5" opacity=".45"/>
<rect x="808" y="885" width="26" height="6" rx="3" opacity=".75"/>
<rect x="837" y="884" width="26" height="8" rx="4" opacity=".97"/>
<rect x="1009" y="877.5" width="26" height="5" rx="2.5" opacity=".8" transform="rotate(-22 1022 880)"/>
<rect x="688" y="922.5" width="26" height="6" rx="3" opacity=".5"/>
<rect x="719" y="922.5" width="26" height="6" rx="3" opacity=".55"/>
<rect x="747" y="922.5" width="26" height="6" rx="3" opacity=".55"/>
<rect x="778" y="922" width="26" height="7" rx="3.5" opacity=".65"/>
<rect x="808" y="921.5" width="26" height="8" rx="4" opacity=".8"/>
<rect x="837" y="921" width="26" height="9" rx="4.5" opacity=".9"/>
<rect x="949" y="924" width="26" height="3" rx="1.5" opacity=".08"/>
<rect x="978" y="920.5" width="26" height="5" rx="2.5" opacity=".35"/>
<rect x="1009" y="917.5" width="26" height="7" rx="3.5" opacity=".7"/>
<rect x="688" y="966" width="26" height="5" rx="2.5" opacity=".55"/>
<rect x="719" y="966" width="26" height="5" rx="2.5" opacity=".55"/>
<rect x="747" y="966" width="26" height="5" rx="2.5" opacity=".5"/>
<rect x="778" y="965.5" width="26" height="6" rx="3" opacity=".65"/>
<rect x="808" y="965" width="26" height="7" rx="3.5" opacity=".85"/>
<rect x="837" y="965" width="26" height="7" rx="3.5" opacity=".9"/>
<rect x="865" y="966.5" width="26" height="4" rx="2" opacity=".2"/>
<rect x="893" y="966.5" width="26" height="4" rx="2" opacity=".25"/>
<rect x="921" y="966.5" width="26" height="4" rx="2" opacity=".25"/>
<rect x="949" y="966" width="26" height="4" rx="2" opacity=".3"/>
<rect x="978" y="965" width="26" height="4" rx="2" opacity=".4"/>
<rect x="1009" y="963.5" width="26" height="5" rx="2.5" opacity=".6"/>
<rect x="688" y="1010" width="26" height="4" rx="2" opacity=".35"/>
<rect x="719" y="1010" width="26" height="4" rx="2" opacity=".4"/>
<rect x="747" y="1010" width="26" height="4" rx="2" opacity=".45"/>
<rect x="778" y="1010" width="26" height="4" rx="2" opacity=".5"/>
<rect x="808" y="1009.5" width="26" height="4" rx="2" opacity=".5"/>
<rect x="837" y="1009" width="26" height="5" rx="2.5" opacity=".55"/>
<rect x="688" y="1051.5" width="26" height="9" rx="4.5" opacity=".95"/>
<rect x="719" y="1051.5" width="26" height="9" rx="4.5" opacity=".95"/>
<rect x="747" y="1051.5" width="26" height="9" rx="4.5" opacity=".95"/>
<rect x="778" y="1051.5" width="26" height="9" rx="4.5" opacity=".95"/>
<rect x="808" y="1052" width="26" height="9" rx="4.5" opacity=".95"/>
<rect x="837" y="1052" width="26" height="9" rx="4.5" opacity=".95"/>
<rect x="865" y="1052" width="26" height="9" rx="4.5" opacity=".95"/>
<rect x="893" y="1052" width="26" height="9" rx="4.5" opacity=".95"/>
<rect x="921" y="1052" width="26" height="9" rx="4.5" opacity=".95"/>
<rect x="949" y="1051.5" width="26" height="9" rx="4.5" opacity=".95"/>
<rect x="978" y="1051.5" width="26" height="9" rx="4.5" opacity=".95"/>
<rect x="1009" y="1051" width="26" height="9" rx="4.5" opacity=".95"/>
</g>
<g text-anchor="end">
<text x="679" y="842.5">GPX1</text><text x="679" y="888.5">GPX4</text><text x="679" y="933">SELN</text><text x="679" y="974.6">SEPHS2</text><text x="679" y="1022">PRDX6</text><text x="679" y="1063.6">Actin</text>
</g>
<path class="ax" d="M1042 853H1049M1042 900H1049M1042 916H1049M1042 975H1049M1042 1008H1049M1042 1046H1049"/>
<text class="m" x="1053" y="859">20</text><text class="m" x="1053" y="906">17</text><text class="m" x="1053" y="923">75</text><text class="m" x="1053" y="981">48</text><text class="m" x="1053" y="1015">25</text><text class="m" x="1053" y="1053">48</text>
<text class="m" x="1045" y="1080">(kDa)</text>

<!-- ================= PANEL H ================= -->
<text class="L" x="42" y="1144">h</text>
<text x="76" y="1196.6">PRDX6</text>
<text x="181" y="1196.6" text-anchor="middle">WT</text>
<text x="240" y="1196.6" text-anchor="middle">KO</text>
<line class="hl" x1="149" y1="1201.4" x2="213.6" y2="1201.4"/><line class="hl" x1="221" y1="1201.4" x2="258.6" y2="1201.4"/>
<text x="95.5" y="1229.8">FBS</text>
<g text-anchor="middle"><text x="161.5" y="1229.8">10</text><text x="196.7" y="1229.8">1</text><text x="239" y="1229.8">1</text></g>
<text x="256" y="1229.8">(%)</text>
<rect class="box" x="143.3" y="1238.2" width="116.4" height="33.6" fill="#f7f7f7"/>
<rect class="box" x="143.3" y="1279.2" width="116.4" height="32.1" fill="#e4e4e4"/>
<rect class="box" x="143.3" y="1317.8" width="116.4" height="30.3"/>
<rect class="box" x="143.3" y="1354.9" width="116.4" height="31.2" fill="#f7f7f7"/>
<rect class="box" x="143.3" y="1392" width="116.4" height="37" fill="#f6f6f6"/>
<g class="bd" filter="url(#bl)">
<rect x="147" y="1251.5" width="22" height="5" rx="2.5" opacity=".4"/>
<rect x="148" y="1287" width="26" height="6" rx="3" opacity=".85"/>
<rect x="147" y="1328.5" width="28" height="5" rx="2.5" opacity=".65"/>
<rect x="186.5" y="1329" width="26" height="4" rx="2" opacity=".3"/>
<rect x="147" y="1365" width="26" height="6" rx="3" opacity=".8"/>
<rect x="186.5" y="1365.5" width="26" height="5" rx="2.5" opacity=".6"/>
<rect x="147" y="1405" width="28" height="8" rx="4" opacity=".9"/>
<rect x="186.5" y="1405" width="28" height="8" rx="4" opacity=".9"/>
<rect x="225" y="1404" width="30" height="10" rx="5" opacity=".95"/>
</g>
<g text-anchor="end">
<text x="137.7" y="1261">GPX4</text><text x="137.7" y="1299.5">SELN</text><text x="137.7" y="1338">SEPHS2</text><text x="137.7" y="1375.2">PRDX6</text><text x="137.7" y="1415.3">Actin</text>
</g>
<path class="ax" d="M260 1271H266M260 1281H266M260 1342H266M260 1366H266M260 1392H266"/>
<text class="m" x="268" y="1271">17</text><text class="m" x="268" y="1290">75</text><text class="m" x="268" y="1346">48</text><text class="m" x="268" y="1374">25</text><text class="m" x="268" y="1400">48</text>
<text class="m" x="264" y="1447">(kDa)</text>

<text x="468" y="1175" text-anchor="middle">WT</text>
<text x="565" y="1155" text-anchor="middle">PRDX6</text><text x="565" y="1175" text-anchor="middle">KO</text>
<text x="680" y="1175" text-anchor="middle">WT</text>
<text x="776" y="1155" text-anchor="middle">PRDX6</text><text x="776" y="1175" text-anchor="middle">KO</text>
<line class="hl" x1="416" y1="1178.3" x2="510.4" y2="1178.3"/><line class="hl" x1="521.6" y1="1178.3" x2="611.6" y2="1178.3"/><line class="hl" x1="629.6" y1="1178.3" x2="724" y2="1178.3"/><line class="hl" x1="733.6" y1="1178.3" x2="823.5" y2="1178.3"/>
<text x="406" y="1198" text-anchor="end">(Sec)<tspan class="sm" dy="5">2</tspan></text>
<g text-anchor="middle">
<text x="638" y="1200">0</text><text x="673.4" y="1200">4</text><text x="709.4" y="1200">8</text><text x="739" y="1200">0</text><text x="774.6" y="1200">4</text><text x="808.3" y="1200">8</text>
<text x="430" y="1225">0</text><text x="463.8" y="1225">4</text><text x="499" y="1225">8</text><text x="533" y="1225">0</text><text x="569" y="1225">4</text><text x="603" y="1225">8</text>
</g>
<text x="832" y="1209">(h)</text>
<text x="410" y="1225" text-anchor="end">Selenite</text>
<rect class="box" x="414.3" y="1229.3" width="410.3" height="45.4" fill="#f5f5f5"/>
<rect class="box" x="414.3" y="1283" width="410.3" height="48" fill="#f3f3f3"/>
<rect class="box" x="414.3" y="1338.6" width="410.3" height="39.1" fill="#f6f6f6"/>
<rect class="box" x="414.3" y="1388" width="410.3" height="36.6" fill="#f6f6f6"/>
<rect class="box" x="414.3" y="1431" width="410.3" height="41" fill="#f6f6f6"/>
<g class="bd" filter="url(#bl)">
<rect x="453" y="1248.5" width="28" height="5" rx="2.5" opacity=".35"/>
<rect x="484" y="1244" width="32" height="14" rx="7" opacity="1"/>
<rect x="655" y="1249" width="28" height="4" rx="2" opacity=".12"/>
<rect x="686" y="1246" width="28" height="10" rx="5" opacity=".92"/>
<rect x="453" y="1303.5" width="28" height="5" rx="2.5" opacity=".5"/>
<rect x="483.5" y="1298" width="33" height="16" rx="8" opacity="1"/>
<rect x="655" y="1301.5" width="28" height="9" rx="4.5" opacity=".85"/>
<rect x="684" y="1299" width="32" height="14" rx="7" opacity="1"/>
<rect x="419" y="1352" width="28" height="4" rx="2" opacity=".25"/>
<rect x="453" y="1353.5" width="28" height="5" rx="2.5" opacity=".4"/>
<rect x="486" y="1355" width="28" height="6" rx="3" opacity=".6"/>
<rect x="520" y="1356" width="28" height="4" rx="2" opacity=".05"/>
<rect x="554" y="1356" width="28" height="4" rx="2" opacity=".12"/>
<rect x="588" y="1356" width="28" height="4" rx="2" opacity=".15"/>
<rect x="621" y="1355.5" width="28" height="5" rx="2.5" opacity=".3"/>
<rect x="655" y="1355" width="28" height="6" rx="3" opacity=".5"/>
<rect x="686" y="1354.5" width="28" height="7" rx="3.5" opacity=".75"/>
<rect x="752" y="1356" width="28" height="4" rx="2" opacity=".05"/>
<rect x="784" y="1356" width="28" height="4" rx="2" opacity=".08"/>
<rect x="419" y="1400.5" width="28" height="5" rx="2.5" opacity=".6"/>
<rect x="453" y="1402.5" width="28" height="5" rx="2.5" opacity=".5"/>
<rect x="486" y="1402.5" width="28" height="5" rx="2.5" opacity=".55"/>
<rect x="621" y="1402" width="28" height="6" rx="3" opacity=".7"/>
<rect x="655" y="1402" width="28" height="6" rx="3" opacity=".7"/>
<rect x="686" y="1402" width="28" height="6" rx="3" opacity=".7"/>
<rect x="784" y="1403" width="28" height="4" rx="2" opacity=".06"/>
<rect x="419" y="1443.5" width="28" height="9" rx="4.5" opacity=".85"/>
<rect x="453" y="1445.5" width="28" height="9" rx="4.5" opacity=".9"/>
<rect x="486" y="1445.5" width="28" height="9" rx="4.5" opacity=".9"/>
<rect x="520" y="1446" width="28" height="9" rx="4.5" opacity=".9"/>
<rect x="554" y="1446" width="28" height="9" rx="4.5" opacity=".9"/>
<rect x="588" y="1446" width="28" height="9" rx="4.5" opacity=".9"/>
<rect x="621" y="1446" width="28" height="9" rx="4.5" opacity=".9"/>
<rect x="655" y="1446" width="28" height="9" rx="4.5" opacity=".9"/>
<rect x="686" y="1446" width="28" height="9" rx="4.5" opacity=".9"/>
<rect x="720" y="1446" width="28" height="9" rx="4.5" opacity=".9"/>
<rect x="752" y="1446" width="28" height="9" rx="4.5" opacity=".9"/>
<rect x="784" y="1444.5" width="28" height="9" rx="4.5" opacity=".9"/>
</g>
<g text-anchor="end">
<text x="405.8" y="1260">GPX4</text><text x="405.8" y="1311.4">SELN</text><text x="405.8" y="1362">SEPHS2</text><text x="405.8" y="1412.3">PRDX6</text><text x="405.8" y="1457">Actin</text>
</g>
<path class="ax" d="M825 1274H831M825 1289H831M825 1367H831M825 1405H831M825 1430H831"/>
<text class="m" x="834" y="1279">17</text><text class="m" x="834" y="1300">75</text><text class="m" x="834" y="1376">48</text><text class="m" x="834" y="1411">25</text><text class="m" x="834" y="1439">48</text>
<text class="m" x="831" y="1483">(kDa)</text>
<text x="616" y="1498" text-anchor="middle">1% FBS</text>

<!-- ================= PANEL I ================= -->
<text class="L" x="890" y="1144">i</text>
<g text-anchor="middle">
<text x="1127.7" y="1158.6">WT</text><text x="1229.5" y="1158.6">PRDX6 KO</text><text x="1333.8" y="1158.6">WT</text><text x="1429.7" y="1158.6">PRDX6 KO</text>
<text x="1121" y="1186.8">–</text><text x="1229.5" y="1184.8">(Sec)<tspan class="sm" dy="5">2</tspan></text><text x="1324" y="1186.8">–</text><text x="1426.9" y="1186.8">Selenite</text>
<text x="1290" y="1217.3">0</text><text x="1324.9" y="1217.3">4</text><text x="1360.4" y="1217.3">8</text><text x="1390.5" y="1217.3">0</text><text x="1426" y="1217.3">4</text><text x="1461.5" y="1217.3">8</text>
<text x="1091.2" y="1247">0</text><text x="1125.4" y="1247">4</text><text x="1160" y="1247">8</text><text x="1195.5" y="1247">0</text><text x="1226.4" y="1247">4</text><text x="1259.3" y="1247">8</text>
</g>
<path class="hl" d="M1078.8 1163.4H1171.8M1186 1163.4H1276M1285.8 1163.4H1378M1387.9 1163.4H1477.8M1078.8 1194.6H1171.8M1183 1194.6H1277.6M1285.8 1194.6H1378M1385.3 1194.6H1479.9"/>
<text x="1072" y="1186.8" text-anchor="end">pretreat</text>
<text x="1072" y="1217.3" text-anchor="end">Selenite</text>
<text x="1488.7" y="1232">(h)</text>
<text x="1066" y="1245" text-anchor="end">(Sec)<tspan class="sm" dy="5">2</tspan></text>
<rect class="box" x="1073" y="1252.5" width="407" height="39.2" fill="#f1f1f1"/>
<rect class="box" x="1073" y="1300" width="407" height="39" fill="#f1f1f1"/>
<rect class="box" x="1073" y="1346" width="407" height="35.6" fill="#f1f1f1"/>
<rect class="box" x="1073" y="1389.6" width="407" height="37.4" fill="#f6f6f6"/>
<rect class="box" x="1073" y="1433.5" width="407" height="38.5" fill="#f3f3f3"/>
<g class="bd" filter="url(#bl)">
<rect x="1076" y="1273" width="28" height="4" rx="2" opacity=".15"/>
<rect x="1110.5" y="1272" width="28" height="6" rx="3" opacity=".65"/>
<rect x="1142.6" y="1269.5" width="32" height="11" rx="5.5" opacity="1"/>
<rect x="1177" y="1272.5" width="28" height="5" rx="2.5" opacity=".3"/>
<rect x="1211" y="1272.5" width="28" height="5" rx="2.5" opacity=".35"/>
<rect x="1243.5" y="1272" width="28" height="6" rx="3" opacity=".7"/>
<rect x="1277.6" y="1272.5" width="28" height="5" rx="2.5" opacity=".4"/>
<rect x="1311" y="1271" width="28" height="8" rx="4" opacity=".9"/>
<rect x="1342" y="1269" width="32" height="12" rx="6" opacity="1"/>
<rect x="1376.5" y="1272.5" width="28" height="5" rx="2.5" opacity=".5"/>
<rect x="1410.6" y="1270" width="28" height="6" rx="3" opacity=".7"/>
<rect x="1444" y="1266.5" width="28" height="5" rx="2.5" opacity=".55"/>
<rect x="1076" y="1317" width="28" height="4" rx="2" opacity=".2"/>
<rect x="1110.5" y="1316" width="28" height="6" rx="3" opacity=".8"/>
<rect x="1144.6" y="1315" width="28" height="8" rx="4" opacity=".95"/>
<rect x="1177" y="1317" width="28" height="4" rx="2" opacity=".2"/>
<rect x="1211" y="1317" width="28" height="4" rx="2" opacity=".15"/>
<rect x="1243.5" y="1317" width="28" height="4" rx="2" opacity=".2"/>
<rect x="1277.6" y="1316.5" width="28" height="5" rx="2.5" opacity=".3"/>
<rect x="1311" y="1316" width="28" height="6" rx="3" opacity=".75"/>
<rect x="1344" y="1315" width="28" height="8" rx="4" opacity=".95"/>
<rect x="1376.5" y="1317" width="28" height="4" rx="2" opacity=".25"/>
<rect x="1410.6" y="1316.5" width="28" height="5" rx="2.5" opacity=".35"/>
<rect x="1444" y="1315" width="28" height="4" rx="2" opacity=".3"/>
<rect x="1076" y="1363.5" width="28" height="5" rx="2.5" opacity=".55"/>
<rect x="1110.5" y="1363.5" width="28" height="5" rx="2.5" opacity=".55"/>
<rect x="1144.6" y="1363" width="28" height="6" rx="3" opacity=".75"/>
<rect x="1177" y="1363.5" width="28" height="5" rx="2.5" opacity=".45"/>
<rect x="1211" y="1363.5" width="28" height="5" rx="2.5" opacity=".4"/>
<rect x="1243.5" y="1363.5" width="28" height="5" rx="2.5" opacity=".5"/>
<rect x="1277.6" y="1363.5" width="28" height="5" rx="2.5" opacity=".5"/>
<rect x="1311" y="1363.5" width="28" height="5" rx="2.5" opacity=".6"/>
<rect x="1344" y="1363" width="28" height="6" rx="3" opacity=".75"/>
<rect x="1376.5" y="1363.5" width="28" height="5" rx="2.5" opacity=".55"/>
<rect x="1410.6" y="1361.5" width="28" height="5" rx="2.5" opacity=".6"/>
<rect x="1444" y="1358.5" width="28" height="5" rx="2.5" opacity=".6"/>
<rect x="1076" y="1404.5" width="28" height="5" rx="2.5" opacity=".65"/>
<rect x="1110.5" y="1404.5" width="28" height="5" rx="2.5" opacity=".55"/>
<rect x="1144.6" y="1404.5" width="28" height="5" rx="2.5" opacity=".6"/>
<rect x="1277.6" y="1404.5" width="28" height="5" rx="2.5" opacity=".6"/>
<rect x="1311" y="1404.5" width="28" height="5" rx="2.5" opacity=".6"/>
<rect x="1344" y="1404.5" width="28" height="5" rx="2.5" opacity=".75"/>
<rect x="1076" y="1443.5" width="28" height="8" rx="4" opacity=".8"/>
<rect x="1110.5" y="1446" width="28" height="8" rx="4" opacity=".85"/>
<rect x="1144.6" y="1446" width="28" height="8" rx="4" opacity=".9"/>
<rect x="1177" y="1446" width="28" height="8" rx="4" opacity=".88"/>
<rect x="1211" y="1446" width="28" height="8" rx="4" opacity=".88"/>
<rect x="1243.5" y="1446" width="28" height="8" rx="4" opacity=".9"/>
<rect x="1277.6" y="1446" width="28" height="8" rx="4" opacity=".88"/>
<rect x="1311" y="1446.5" width="28" height="8" rx="4" opacity=".9"/>
<rect x="1344" y="1446.5" width="28" height="9" rx="4.5" opacity=".95"/>
<rect x="1376.5" y="1446.5" width="28" height="9" rx="4.5" opacity=".95"/>
<rect x="1410.6" y="1446.5" width="28" height="8" rx="4" opacity=".9"/>
<rect x="1444" y="1445" width="28" height="8" rx="4" opacity=".9"/>
</g>
<g text-anchor="end">
<text x="1066.8" y="1275.8">GPX4</text><text x="1066.8" y="1324.8">SELN</text><text x="1066.8" y="1367.8">SEPHS2</text><text x="1066.8" y="1413.8">PRDX6</text><text x="1066.8" y="1457">Actin</text>
</g>
<path class="ax" d="M1481 1291H1487M1481 1308H1487M1481 1377H1487M1481 1406H1487M1481 1439H1487"/>
<text class="m" x="1490" y="1292">17</text><text class="m" x="1490" y="1314">75</text><text class="m" x="1490" y="1382.5">48</text><text class="m" x="1490" y="1412">25</text><text class="m" x="1490" y="1445.5">48</text>
<text class="m" x="1484" y="1490">(kDa)</text>
</svg>
</body></html>
